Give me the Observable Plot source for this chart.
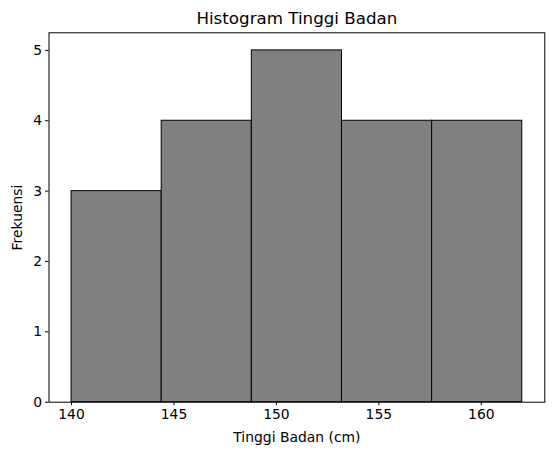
<!DOCTYPE html>
<html><head><meta charset="utf-8">
<script src="https://cdn.jsdelivr.net/npm/d3@7"></script>
<script src="https://cdn.jsdelivr.net/npm/@observablehq/plot@0.6"></script>
<style>body{margin:0;background:#fff}svg{font-family:"DejaVu Sans",sans-serif}</style>
</head><body><div id="c"></div>
<script>
const binStart = [140, 144.4, 148.8, 153.2, 157.6];
const binEnd = [144.4, 148.8, 153.2, 157.6, 162];
const counts = [3, 4, 5, 4, 4];
const xTicks = [140, 145, 150, 155, 160];
const yTicks = [0, 1, 2, 3, 4, 5];
const title = "Histogram Tinggi Badan";
const xLabel = "Tinggi Badan (cm)";
const yLabel = "Frekuensi";

const bins = counts.map((c, i) => ({x1: binStart[i], x2: binEnd[i], y: c}));

const chart = Plot.plot({
  width: 554, height: 455,
  marginLeft: 48.5, marginRight: 9.7, marginTop: 32.3, marginBottom: 53.3,
  style: {fontFamily: "DejaVu Sans, sans-serif", fontSize: "13.9px", color: "#000", background: "#fff"},
  x: {domain: [138.9, 163.1], label: null},
  y: {domain: [0, 5.25], label: null},
  marks: [
    Plot.rectY(bins, {x1: "x1", x2: "x2", y: "y", fill: "#808080", stroke: "#000", strokeWidth: 1}),
    Plot.frame({stroke: "#000", strokeWidth: 1}),
    Plot.axisX({ticks: xTicks, tickFormat: "d", tickSize: 3.5, tickPadding: 3.5, fontSize: 13.9, label: null, stroke: "#000"}),
    Plot.axisY({ticks: yTicks, tickFormat: "d", tickSize: 3.5, tickPadding: 3.5, fontSize: 13.9, label: null, stroke: "#000"}),
    Plot.text([title], {frameAnchor: "top", dy: -21, fontSize: 16.7, text: d => d, fill: "#000"}),
    Plot.text([xLabel], {frameAnchor: "bottom", dy: 40, fontSize: 13.9, text: d => d, fill: "#000"}),
    Plot.text([yLabel], {frameAnchor: "left", textAnchor: "middle", dx: -31, rotate: -90, fontSize: 13.9, text: d => d, fill: "#000"})
  ]
});
document.getElementById("c").appendChild(chart);
</script></body></html>
